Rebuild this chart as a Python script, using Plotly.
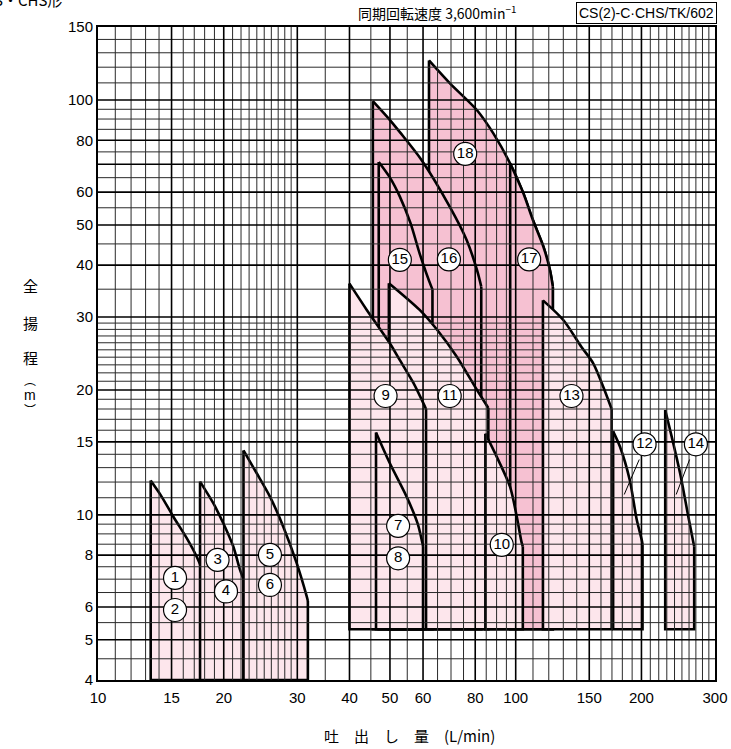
import plotly.graph_objects as go

# ---------------- data ----------------
X_TICKS = [10, 15, 20, 30, 40, 50, 60, 80, 100, 150, 200, 300]
Y_TICKS = [4, 5, 6, 8, 10, 15, 20, 30, 40, 50, 60, 80, 100, 150]

# grid line positions
X_GRID = list(range(11, 30)) + list(range(30, 100, 5)) + list(range(100, 300, 10))
Y_GRID = [4.5, 5, 5.5, 6, 6.5, 7, 7.5, 8, 8.5, 9, 9.5] + list(range(10, 30)) + \
         list(range(30, 100, 5)) + list(range(100, 150, 10))
X_MAJOR = [15, 20, 30, 40, 50, 60, 80, 100, 150, 200]
Y_MAJOR = [5, 6, 8, 10, 15, 20, 30, 40, 50, 60, 70, 80, 100]

# region outlines: flow Q (L/min) and head H (m)
# each list: bottom-left, top-left, ... curve ..., curve end, bottom-right
r1_q = [13.37, 13.37, 14.2, 15.15, 16.31, 17.23, 17.87, 18.44, 18.44]
r1_h = [4.0, 12.1, 11.07, 9.9, 8.79, 7.93, 7.24, 6.12, 4.0]
r3_q = [17.55, 17.55, 18.88, 19.95, 21.08, 21.88, 22.3, 22.3]
r3_h = [4.0, 12.03, 10.67, 9.55, 8.39, 7.37, 7.0, 4.0]
r5_q = [22.3, 22.3, 23.99, 25.8, 27.77, 29.9, 31.6, 31.8, 31.8]
r5_h = [4.0, 14.3, 12.6, 11.07, 9.37, 7.65, 6.36, 6.2, 4.0]
r7_q = [46.3, 46.3, 50.0, 54.8, 58.3, 60.0, 60.0]
r7_h = [5.3, 15.8, 13.3, 11.07, 9.5, 8.4, 5.3]
r9_q = [40.0, 40.0, 44.0, 50.0, 52.8, 56.9, 60.7, 61.0, 61.0]
r9_h = [5.3, 36.1, 31.2, 25.9, 23.6, 20.8, 18.2, 18.0, 5.3]
r10_q = [84.6, 84.6, 90.1, 96.9, 100.6, 103.4, 104.0, 104.0]
r10_h = [5.3, 15.7, 13.8, 11.7, 9.9, 8.55, 8.4, 5.3]
r11_q = [49.7, 49.7, 58.9, 64.9, 72.2, 80.8, 86.0, 86.0]
r11_h = [5.3, 36.2, 31.2, 27.9, 24.1, 20.0, 18.1, 5.3]
r12_q = [171.1, 171.1, 177.7, 187.5, 194.9, 200.3, 201.2, 201.2]
r12_h = [5.3, 15.9, 14.6, 12.14, 9.73, 8.71, 8.5, 5.3]
r13_q = [116.2, 116.2, 130.0, 143.7, 153.3, 161.9, 169.7, 169.7]
r13_h = [5.3, 32.9, 29.5, 25.4, 23.2, 20.4, 18.0, 5.3]
r14_q = [228.0, 228.0, 236.3, 247.5, 259.0, 266.5, 267.5, 267.5]
r14_h = [5.3, 17.9, 15.44, 12.6, 9.9, 8.55, 8.4, 5.3]
r15_q = [47.0, 47.0, 50.0, 52.8, 56.0, 59.0, 62.8, 63.2, 63.2]
r15_h = [5.3, 70.9, 65.0, 58.5, 50.5, 42.4, 35.5, 35.0, 5.3]
r16_q = [45.5, 45.5, 50.0, 52.8, 59.5, 69.6, 76.3, 80.8, 82.7, 82.7]
r16_h = [5.3, 99.4, 89.5, 83.7, 71.7, 55.2, 46.0, 38.9, 35.5, 5.3]
r17_q = [97.0, 97.0, 104.3, 110.0, 116.5, 120.8, 122.7, 122.7]
r17_h = [5.3, 70.3, 59.6, 51.3, 44.3, 38.9, 35.5, 5.3]
r18_q = [62.0, 62.0, 69.6, 80.8, 88.4, 97.0, 104.3, 110.0, 116.5, 120.8, 122.7, 122.7]
r18_h = [5.3, 124.6, 109.7, 94.5, 83.1, 70.3, 59.6, 51.3, 44.3, 38.9, 35.5, 5.3]

# model number labels
label_txt = [str(i) for i in range(1, 19)]
label_q = [15.29, 15.29, 19.33, 20.25, 25.8, 25.8, 52.3, 52.3, 48.8, 92.6, 69.5, 203.5, 136.0, 270.0, 52.8, 69.2, 107.7, 75.7]
label_h = [7.05, 5.90, 7.79, 6.54, 8.01, 6.78, 9.41, 7.86, 19.35, 8.47, 19.35, 14.8, 19.35, 14.8, 41.2, 41.3, 41.3, 74.2]

# leader lines for 12 and 14
lead12_q = [197.6, 181.9]
lead12_h = [13.6, 11.2]
lead14_q = [260.8, 242.2]
lead14_h = [13.6, 11.2]

LIGHT = "#FDE6EC"
DARK = "#F6C1D2"
EDGE_W = 2.6

fig = go.Figure()


def add_region(q, h, color):
    # fill
    fig.add_trace(go.Scatter(x=q, y=h, mode="lines", fill="toself", fillcolor=color,
                             line=dict(width=0), hoverinfo="skip", showlegend=False))
    # smooth performance curve (top-left point .. curve end)
    fig.add_trace(go.Scatter(x=q[1:-1], y=h[1:-1], mode="lines",
                             line=dict(color="black", width=EDGE_W, shape="spline", smoothing=0.8),
                             hoverinfo="skip", showlegend=False))
    # straight edges: left, bottom, right
    fig.add_trace(go.Scatter(x=[q[1], q[0], q[-1], q[-2]], y=[h[1], h[0], h[-1], h[-2]],
                             mode="lines", line=dict(color="black", width=EDGE_W),
                             hoverinfo="skip", showlegend=False))


# dark (upper) regions first, light regions over them
for q, h in [(r18_q, r18_h), (r17_q, r17_h), (r16_q, r16_h), (r15_q, r15_h)]:
    add_region(q, h, DARK)
for q, h in [(r11_q, r11_h), (r9_q, r9_h), (r7_q, r7_h), (r10_q, r10_h),
             (r13_q, r13_h), (r12_q, r12_h), (r14_q, r14_h),
             (r1_q, r1_h), (r3_q, r3_h), (r5_q, r5_h)]:
    add_region(q, h, LIGHT)

# grid drawn over the fills
YMIN, YMAX = Y_TICKS[0], Y_TICKS[-1]
XMIN, XMAX = X_TICKS[0], X_TICKS[-1]


def grid_trace(vals, vertical, width, color):
    xs, ys = [], []
    for v in vals:
        if vertical:
            xs += [v, v, None]
            ys += [YMIN, YMAX, None]
        else:
            xs += [XMIN, XMAX, None]
            ys += [v, v, None]
    fig.add_trace(go.Scatter(x=xs, y=ys, mode="lines",
                             line=dict(color=color, width=width),
                             hoverinfo="skip", showlegend=False))


grid_trace([v for v in X_GRID if v not in X_MAJOR], True, 1.0, "#2a2a2a")
grid_trace([v for v in Y_GRID if v not in Y_MAJOR], False, 1.0, "#2a2a2a")
grid_trace(X_MAJOR, True, 1.6, "black")
grid_trace(Y_MAJOR, False, 1.6, "black")

# leader lines
for q, h in [(lead12_q, lead12_h), (lead14_q, lead14_h)]:
    fig.add_trace(go.Scatter(x=q, y=h, mode="lines", line=dict(color="black", width=1),
                             hoverinfo="skip", showlegend=False))

# circled numbers
fig.add_trace(go.Scatter(
    x=label_q, y=label_h, mode="markers+text", text=label_txt,
    textposition="middle center",
    textfont=dict(family="Liberation Sans Narrow, Liberation Sans, Arial", size=15, color="black"),
    marker=dict(symbol="circle", size=23, color="white", line=dict(color="black", width=1.2)),
    hoverinfo="skip", showlegend=False, cliponaxis=False))

tickfont = dict(family="Liberation Sans, Arial", size=15, color="black")
fig.update_xaxes(type="log", range=[1, 2.47712], tickvals=X_TICKS,
                 ticktext=[str(v) for v in X_TICKS], showgrid=False, zeroline=False,
                 showline=True, mirror=True, linecolor="black", linewidth=2,
                 ticks="", tickfont=tickfont, ticklabelstandoff=3, automargin=False)
fig.update_yaxes(type="log", range=[0.60206, 2.17609], tickvals=Y_TICKS,
                 ticktext=[str(v) for v in Y_TICKS], showgrid=False, zeroline=False,
                 showline=True, mirror=True, linecolor="black", linewidth=2,
                 ticks="", tickfont=tickfont, automargin=False)

W, H = 731, 749
L, T = 98, 27
R = W - 715
B = H - 680

jp = "Noto Sans CJK JP"
# positions given in page pixels
ann = [
    dict(text="同期回転速度 3,600min<sup>−1</sup>", x=518, y=13, xa="right", font=dict(family=jp, size=14)),
    dict(text="CS(2)-C·CHS/TK/602", x=717, y=13, xa="right", font=dict(family="Liberation Sans, Arial", size=14),
         bordercolor="black", borderwidth=1, borderpad=2),
    dict(text="全", x=30, y=285, xa="center", font=dict(family=jp, size=15)),
    dict(text="揚", x=30, y=322, xa="center", font=dict(family=jp, size=15)),
    dict(text="程", x=30, y=357, xa="center", font=dict(family=jp, size=15)),
    dict(text="︵", x=30, y=380, xa="center", font=dict(family=jp, size=12)),
    dict(text="m", x=30, y=395, xa="center", font=dict(family="Liberation Sans, Arial", size=14)),
    dict(text="︶", x=30, y=410, xa="center", font=dict(family=jp, size=12)),
    dict(text="吐　出　し　量　(L/min)", x=409, y=735, xa="center", font=dict(family=jp, size=15)),
    dict(text="S・CHS形", x=28, y=-1, xa="center", font=dict(family=jp, size=15)),
]
for a in ann:
    px, py, xa = a.pop("x"), a.pop("y"), a.pop("xa")
    fig.add_annotation(xref="paper", yref="paper",
                       x=(px - L) / (W - L - R), y=(H - B - py) / (H - T - B),
                       xanchor=xa, yanchor="middle", showarrow=False, **a)

fig.update_layout(width=W, height=H, margin=dict(l=L, r=R, t=T, b=B, autoexpand=False),
                  paper_bgcolor="white", plot_bgcolor="white", hovermode=False,
                  font=dict(family="Liberation Sans, Arial", color="black"))

fig.write_html("out.html", config={"displayModeBar": False},
               post_script="document.body.style.margin='0';document.body.style.overflow='hidden';")
